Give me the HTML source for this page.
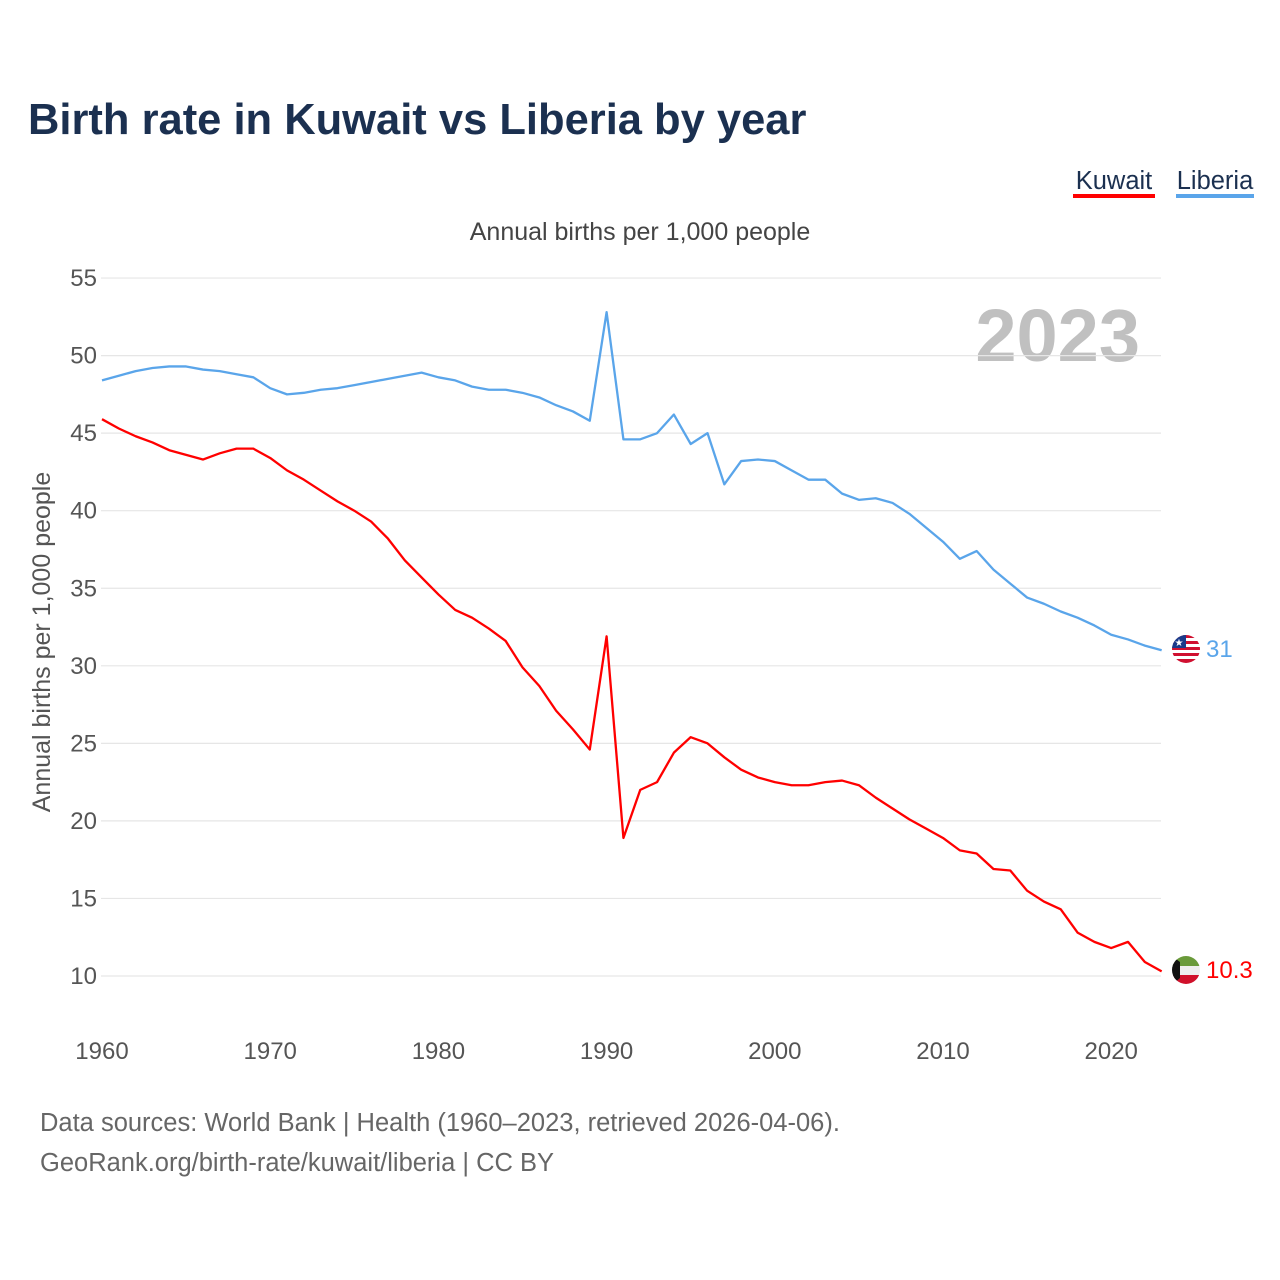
<!DOCTYPE html>
<html><head><meta charset="utf-8"><style>
body{margin:0;background:#fff;font-family:"Liberation Sans",sans-serif;}
</style></head><body>
<svg width="1280" height="1280" xmlns="http://www.w3.org/2000/svg" style="display:block">
<text x="28" y="134" font-size="43.5" font-weight="bold" fill="#1b3050">Birth rate in Kuwait vs Liberia by year</text>
<g><text x="1114" y="189" font-size="25.5" fill="#1b3050" text-anchor="middle">Kuwait</text><rect x="1073" y="194" width="82" height="4" fill="#ff0000"/></g>
<g><text x="1215" y="189" font-size="25.5" fill="#1b3050" text-anchor="middle">Liberia</text><rect x="1176" y="194" width="78" height="4" fill="#5aa5ea"/></g>
<text x="640" y="240" font-size="25" fill="#444" text-anchor="middle">Annual births per 1,000 people</text>
<text x="1140" y="361" font-size="74" font-weight="bold" fill="#c0c0c0" text-anchor="end">2023</text>
<text transform="translate(50,642) rotate(-90)" font-size="25" fill="#555" text-anchor="middle">Annual births per 1,000 people</text>
<g id="grid"></g><g id="lines"></g>
<g>
<clipPath id="cl"><circle cx="1186" cy="649" r="14"/></clipPath>
<g clip-path="url(#cl)"><rect x="1172" y="635" width="28" height="28" fill="#fff"/>
<rect x="1172" y="635" width="28" height="3" fill="#d01030"/><rect x="1172" y="641" width="28" height="3" fill="#d01030"/><rect x="1172" y="647" width="28" height="3" fill="#d01030"/><rect x="1172" y="653" width="28" height="3" fill="#d01030"/><rect x="1172" y="659" width="28" height="4" fill="#d01030"/>
<rect x="1172" y="635" width="14" height="13" fill="#1a3a8a"/><text x="1179" y="646" font-size="10" fill="#fff" text-anchor="middle">★</text></g></g>
<text x="1206" y="657" font-size="24" fill="#5aa5ea">31</text>
<g>
<clipPath id="ck"><circle cx="1186" cy="970" r="14"/></clipPath>
<g clip-path="url(#ck)"><rect x="1172" y="956" width="28" height="10" fill="#6a9a3a"/><rect x="1172" y="966" width="28" height="9" fill="#eee"/><rect x="1172" y="975" width="28" height="10" fill="#d0102a"/><polygon points="1172,956 1180,962 1180,978 1172,985" fill="#111"/></g></g>
<text x="1206" y="978" font-size="24" fill="#ff0000">10.3</text>
<text x="40" y="1131" font-size="25.5" fill="#666">Data sources: World Bank | Health (1960–2023, retrieved 2026-04-06).</text>
<text x="40" y="1171" font-size="25.5" fill="#666">GeoRank.org/birth-rate/kuwait/liberia | CC BY</text>
</svg>
<script>
const years=[];for(let y=1960;y<=2023;y++)years.push(y);
const yTicks=[10,15,20,25,30,35,40,45,50,55];
const xTicks=[1960,1970,1980,1990,2000,2010,2020];
const liberia=[48.4,48.7,49.0,49.2,49.3,49.3,49.1,49.0,48.8,48.6,47.9,47.5,47.6,47.8,47.9,48.1,48.3,48.5,48.7,48.9,48.6,48.4,48.0,47.8,47.8,47.6,47.3,46.8,46.4,45.8,52.8,44.6,44.6,45.0,46.2,44.3,45.0,41.7,43.2,43.3,43.2,42.6,42.0,42.0,41.1,40.7,40.8,40.5,39.8,38.9,38.0,36.9,37.4,36.2,35.3,34.4,34.0,33.5,33.1,32.6,32.0,31.7,31.3,31.0];
const kuwait=[45.9,45.3,44.8,44.4,43.9,43.6,43.3,43.7,44.0,44.0,43.4,42.6,42.0,41.3,40.6,40.0,39.3,38.2,36.8,35.7,34.6,33.6,33.1,32.4,31.6,29.9,28.7,27.1,25.9,24.6,31.9,18.9,22.0,22.5,24.4,25.4,25.0,24.1,23.3,22.8,22.5,22.3,22.3,22.5,22.6,22.3,21.5,20.8,20.1,19.5,18.9,18.1,17.9,16.9,16.8,15.5,14.8,14.3,12.8,12.2,11.8,12.2,10.9,10.3];
const NS="http://www.w3.org/2000/svg";
const X=v=>102+(v-1960)*16.82;
const Y=v=>976-(v-10)*15.51;
const grid=document.getElementById('grid'),lines=document.getElementById('lines');
yTicks.forEach(t=>{
 const l=document.createElementNS(NS,'line');
 l.setAttribute('x1',101);l.setAttribute('x2',1161);l.setAttribute('y1',Y(t));l.setAttribute('y2',Y(t));
 l.setAttribute('stroke','#e6e6e6');l.setAttribute('stroke-width','1.2');
 
 
 grid.appendChild(l);
 const tx=document.createElementNS(NS,'text');
 tx.setAttribute('x',97);tx.setAttribute('y',Y(t)+8);tx.setAttribute('text-anchor','end');
 tx.setAttribute('font-size','24');tx.setAttribute('fill','#555');tx.textContent=t;
 
 
 grid.appendChild(tx);
});
xTicks.forEach(t=>{
 const tx=document.createElementNS(NS,'text');
 tx.setAttribute('x',X(t));tx.setAttribute('y',1059);tx.setAttribute('text-anchor','middle');
 tx.setAttribute('font-size','24');tx.setAttribute('fill','#555');tx.textContent=t;
 
 
 grid.appendChild(tx);
});
function draw(vals,color,name){
 const p=document.createElementNS(NS,'polyline');
 p.setAttribute('points',vals.map((v,i)=>X(years[i])+','+Y(v)).join(' '));
 p.setAttribute('fill','none');p.setAttribute('stroke',color);p.setAttribute('stroke-width','2.3');
 p.setAttribute('stroke-linejoin','round');
 
 
 lines.appendChild(p);
}
draw(liberia,'#5aa5ea','liberia-line');
draw(kuwait,'#ff0000','kuwait-line');
</script>
</body></html>
